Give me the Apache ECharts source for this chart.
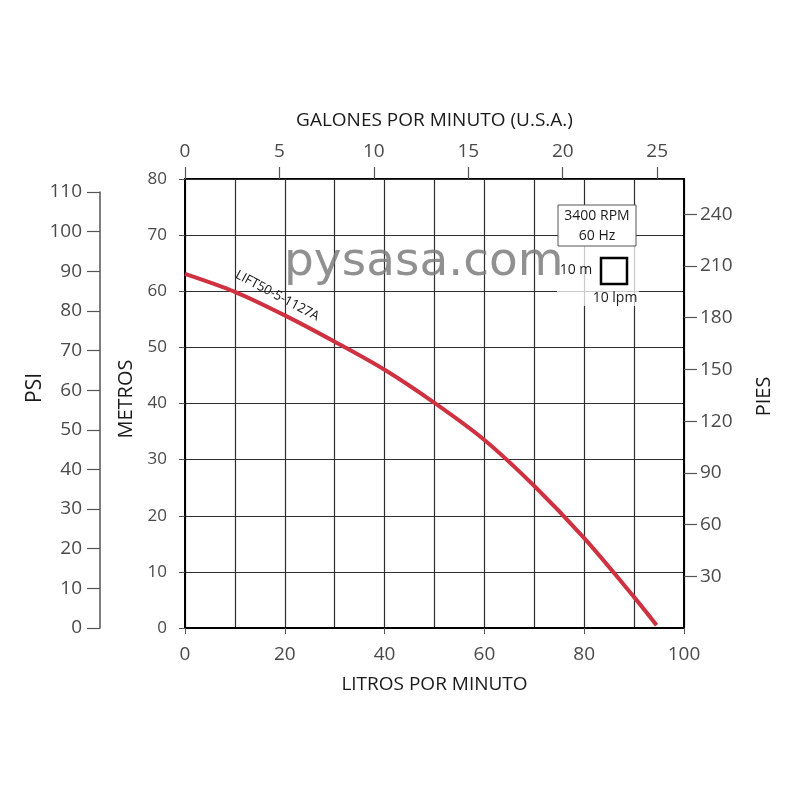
<!DOCTYPE html>
<html>
<head>
<meta charset="utf-8">
<script src="https://cdn.jsdelivr.net/npm/echarts@6/dist/echarts.min.js"></script>
<style>html,body{margin:0;padding:0;background:#fff}#c{width:800px;height:800px}</style>
</head>
<body>
<div id="c"></div>
<script>
// ---- data ----
const litros = [0, 10, 20, 30, 40, 50, 60, 70, 80, 90, 94.5];
const metros = [63.1, 59.9, 55.7, 51.0, 46.0, 40.1, 33.5, 25.3, 16.0, 5.5, 0.5];
const seriesName = 'LIFT50-5-1127A';
const legendLines = ['3400 RPM', '60 Hz'];
const squareLabels = ['10 m', '10 lpm'];
const watermark = 'pysasa.com';
// axis ranges (tick labels follow from min / max / interval)
const lpmRange = {min: 0, max: 100, grid: 10, label: 20};
const gpmRange = {min: 0, max: 25, step: 5};
const piesRange = {min: 30, max: 240, step: 30};
const psiRange = {min: 0, max: 110, step: 10};
const metrosRange = {min: 0, max: 80, step: 10};

const FONT = 'Open Sans';
const LBL = '#4a4a4a';
const TTL = '#1a1a1a';

// layout of the main plot
const G = {left: 185, top: 179, width: 499, height: 449};
const pxPerLpm = G.width / (lpmRange.max - lpmRange.min);
const gpmWidth = gpmRange.max * 3.785 * pxPerLpm;              // gallons -> litres
const pxPerFt = 1.7242;                                          // as drawn on the reference
const piesTop = G.top + G.height - piesRange.max * pxPerFt;
const piesH = (piesRange.max - piesRange.min) * pxPerFt;

const chart = echarts.init(document.getElementById('c'), null, {renderer: 'canvas'});
const curve = litros.map((x, i) => [x, metros[i]]);

const hidden = (gi) => ({gridIndex: gi, type: 'value', show: false, min: 0, max: 1, axisLine: {onZero: false}});

const option = {
  backgroundColor: '#fff',
  animation: false,
  textStyle: {fontFamily: FONT},
  grid: [
    {left: G.left, top: G.top, width: G.width, height: G.height, show: true, borderColor: '#000', borderWidth: 2},
    {left: 100, top: 192, width: 1, height: 436, show: false},
    {left: G.left, top: G.top, width: gpmWidth, height: G.height, show: false},
    {left: G.left + G.width - 1, top: piesTop, width: 1, height: piesH, show: false}
  ],
  xAxis: [
    { // 0: grid lines every 10 lpm
      gridIndex: 0, type: 'value', position: 'bottom', min: lpmRange.min, max: lpmRange.max, interval: lpmRange.grid,
      axisLine: {show: true, onZero: false, lineStyle: {color: '#000', width: 2}},
      axisTick: {show: false}, axisLabel: {show: false},
      splitLine: {show: true, lineStyle: {color: '#2e2e2e', width: 1.2}}
    },
    { // 1: labelled litres axis
      gridIndex: 0, type: 'value', position: 'bottom', min: lpmRange.min, max: lpmRange.max, interval: lpmRange.label,
      name: 'LITROS POR MINUTO', nameLocation: 'middle', nameGap: 47,
      nameTextStyle: {fontSize: 19, color: TTL, fontFamily: FONT},
      axisLine: {show: false, onZero: false},
      axisTick: {show: true, length: 6, lineStyle: {color: '#555'}},
      axisLabel: {margin: 17, fontSize: 19, color: LBL, fontFamily: FONT},
      splitLine: {show: false}
    },
    { // 2: gallons (top)
      gridIndex: 2, type: 'value', position: 'top', min: gpmRange.min, max: gpmRange.max, interval: gpmRange.step,
      axisLine: {show: false, onZero: false},
      axisTick: {show: true, length: 12, lineStyle: {color: '#555', width: 1.2}},
      axisLabel: {margin: 18, fontSize: 19, color: LBL, fontFamily: FONT},
      splitLine: {show: false}
    },
    { // 3: top title holder
      gridIndex: 0, type: 'value', position: 'top', min: 0, max: 1,
      name: 'GALONES POR MINUTO (U.S.A.)', nameLocation: 'middle', nameGap: 49,
      nameTextStyle: {fontSize: 19, color: TTL, fontFamily: FONT},
      axisLine: {show: false, onZero: false}, axisTick: {show: false}, axisLabel: {show: false}, splitLine: {show: false}
    },
    hidden(1),
    hidden(3)
  ],
  yAxis: [
    { // 0: metros
      gridIndex: 0, type: 'value', position: 'left', min: metrosRange.min, max: metrosRange.max, interval: metrosRange.step,
      name: 'METROS', nameLocation: 'middle', nameGap: 47, nameRotate: 90,
      nameTextStyle: {fontSize: 20, color: TTL, fontFamily: FONT, padding: [0, 0, 0, 9]},
      axisLine: {show: true, onZero: false, lineStyle: {color: '#000', width: 2}},
      axisTick: {show: true, length: 6, lineStyle: {color: '#555'}},
      axisLabel: {margin: 18, fontSize: 17, color: LBL, fontFamily: FONT},
      splitLine: {show: true, lineStyle: {color: '#2e2e2e', width: 1.2}}
    },
    { // 1: right border + PIES title
      gridIndex: 0, type: 'value', position: 'right', min: 0, max: 1,
      name: 'PIES', nameLocation: 'middle', nameGap: 70, nameRotate: 90,
      nameTextStyle: {fontSize: 20, color: TTL, fontFamily: FONT, padding: [0, 0, 0, 14]},
      axisLine: {show: true, onZero: false, lineStyle: {color: '#000', width: 2}},
      axisTick: {show: false}, axisLabel: {show: false}, splitLine: {show: false}
    },
    { // 2: PSI
      gridIndex: 1, type: 'value', position: 'left', min: psiRange.min, max: psiRange.max, interval: psiRange.step,
      name: 'PSI', nameLocation: 'middle', nameGap: 50, nameRotate: 90,
      nameTextStyle: {fontSize: 21, color: TTL, fontFamily: FONT, padding: [0, 0, 0, 44]},
      axisLine: {show: true, onZero: false, lineStyle: {color: '#555', width: 1.5}},
      axisTick: {show: true, length: 13, lineStyle: {color: '#555', width: 1.2}},
      axisLabel: {margin: 18, fontSize: 19, color: LBL, fontFamily: FONT},
      splitLine: {show: false}
    },
    { // 3: PIES ticks
      gridIndex: 3, type: 'value', position: 'right', min: piesRange.min, max: piesRange.max, interval: piesRange.step,
      axisLine: {show: false, onZero: false},
      axisTick: {show: true, length: 13, lineStyle: {color: '#555', width: 1.2}},
      axisLabel: {margin: 16, fontSize: 19, color: LBL, fontFamily: FONT},
      splitLine: {show: false}
    },
    hidden(2)
  ],
  series: [
    {
      name: seriesName, type: 'line', xAxisIndex: 0, yAxisIndex: 0,
      data: curve, smooth: 0.3, symbol: 'none',
      lineStyle: {color: '#cf3141', width: 4}, z: 5
    }
  ]
};
chart.setOption(option);

// annotations positioned from data coordinates / layout
const lblPos = chart.convertToPixel({xAxisIndex: 0, yAxisIndex: 0}, [18.5, 59.2]);
chart.setOption({
  graphic: [
    {
      type: 'text', x: lblPos[0], y: lblPos[1], rotation: -28 * Math.PI / 180, z: 10,
      style: {text: seriesName, fontSize: 13, fontFamily: FONT, fill: '#111', align: 'center', verticalAlign: 'middle'}
    },
    {
      type: 'text', left: 284, top: 239, z: 8,
      style: {text: watermark, fontSize: 47, fontFamily: 'DejaVu Sans', fill: 'rgba(125,125,125,0.85)'}
    },
    {
      type: 'rect', shape: {x: 557, y: 246, width: 82, height: 60}, z: 6,
      style: {fill: 'rgba(255,255,255,0.75)'}
    },
    {
      type: 'rect', shape: {x: 558, y: 205, width: 78, height: 41}, z: 7,
      style: {fill: '#fff', stroke: '#555', lineWidth: 1}
    },
    {
      type: 'text', x: 597, y: 216, z: 9,
      style: {text: legendLines[0], fontSize: 14, fontFamily: FONT, fill: '#1a1a1a', align: 'center', verticalAlign: 'middle'}
    },
    {
      type: 'text', x: 597, y: 236, z: 9,
      style: {text: legendLines[1], fontSize: 14, fontFamily: FONT, fill: '#1a1a1a', align: 'center', verticalAlign: 'middle'}
    },
    {
      type: 'rect', shape: {x: 601, y: 258, width: 26, height: 26}, z: 9,
      style: {fill: '#fff', stroke: '#000', lineWidth: 2.5}
    },
    {
      type: 'text', x: 576, y: 270, z: 9,
      style: {text: squareLabels[0], fontSize: 14, fontFamily: FONT, fill: '#1a1a1a', align: 'center', verticalAlign: 'middle'}
    },
    {
      type: 'text', x: 615, y: 298, z: 9,
      style: {text: squareLabels[1], fontSize: 14, fontFamily: FONT, fill: '#1a1a1a', align: 'center', verticalAlign: 'middle'}
    }
  ]
});
</script>
</body>
</html>
